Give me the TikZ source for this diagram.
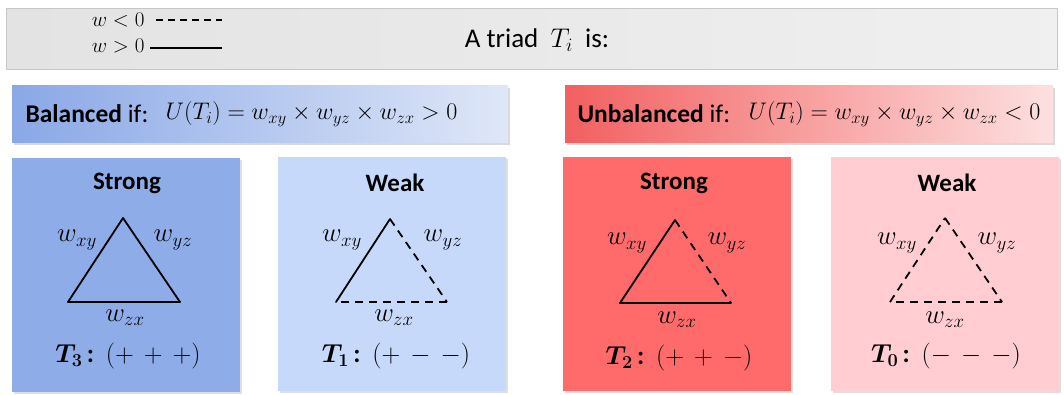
\RequirePackage{fix-cm}
\documentclass[tikz,border=0pt]{standalone}
\usepackage{amsmath}
\usepackage{bm}
\usepackage{fontspec}
\setmainfont{Carlito}
\usetikzlibrary{shadows}
\definecolor{pA}{HTML}{8EADE8}
\definecolor{pB}{HTML}{C7D9FA}
\definecolor{pC}{HTML}{FF6B6B}
\definecolor{pD}{HTML}{FFCDD2}
\definecolor{balL}{HTML}{8AA8E6}
\definecolor{balR}{HTML}{DFE7F8}
\definecolor{unbL}{HTML}{F26060}
\definecolor{unbR}{HTML}{FDE0E0}
\tikzset{
  panel/.style={minimum width=228, minimum height=234, inner sep=0pt,
    drop shadow={opacity=0.25, shadow xshift=2pt, shadow yshift=-2pt}},
  banner/.style={minimum height=57, inner sep=0pt,
    drop shadow={opacity=0.3, shadow xshift=2pt, shadow yshift=-2pt}},
  ttl/.style={font=\fontsize{25}{29}\selectfont\bfseries},
  lbl/.style={font=\fontsize{25.5}{29}\selectfont},
  eqn/.style={font=\fontsize{24}{29}\selectfont},
  tlab/.style={font=\fontsize{26}{30}\selectfont},
  wl/.style={font=\fontsize{27}{31}\selectfont},
  posedge/.style={line width=1.8pt, line cap=round},
  negedge/.style={line width=1.8pt, dash pattern=on 8pt off 6pt},
}
\newcommand\sg[3]{(#1\mskip7mu#2\mskip7mu#3)}
\begin{document}
\begin{tikzpicture}[x=1pt,y=-1pt]
\useasboundingbox (0,0) rectangle (1064,395);
% top bar
\node[draw=black!22, line width=1pt, left color=black!11, right color=black!6,
      minimum width=1051, minimum height=61, inner sep=0pt] (top) at (531.5,39.5) {};
\node[font=\fontsize{27}{31}\selectfont] (title) at (537,40) {A triad \ $T_i$ \ is:};
\node[font=\fontsize{21}{24}\selectfont, anchor=east] (lneg) at (148,20) {$w<0$};
\node[font=\fontsize{21}{24}\selectfont, anchor=east] (lpos) at (148,46) {$w>0$};
\coordinate (ln1) at (156,20); \coordinate (ln2) at (222,20);
\coordinate (lp1) at (150,48); \coordinate (lp2) at (222,48);
\draw[line width=1.6pt, dash pattern=on 7pt off 5pt] (ln1) -- (ln2);
\draw[line width=1.6pt] (lp1) -- (lp2);
% banners
\node[banner, minimum width=496, left color=balL, right color=balR] (bal) at (260,114.5) {};
\node[lbl, anchor=west] (balt) at (22,114) {\textbf{Balanced} if:};
\node[eqn, anchor=west] (bale) at (162,114) {$U(T_i)=w_{xy}\times w_{yz}\times w_{zx}>0$};
\node[banner, minimum width=488, left color=unbL, right color=unbR] (unb) at (809,114.5) {};
\node[lbl, anchor=west] (unbt) at (574,114) {\textbf{Unbalanced} if:};
\node[eqn, anchor=west] (unbe) at (745,114) {$U(T_i)=w_{xy}\times w_{yz}\times w_{zx}<0$};
% panel 1
\node[panel, fill=pA] (P1) at (126,275) {};
\node[ttl] (P1t) at (127,183) {Strong};
\coordinate (P1a) at (123,218); \coordinate (P1l) at (68,302); \coordinate (P1r) at (180,302);
\draw[posedge] (P1l) -- (P1a);
\draw[posedge] (P1a) -- (P1r);
\draw[posedge] (P1r) -- (P1l);
\node[wl] (P1xy) at (77,240) {$w_{xy}$};
\node[wl] (P1yz) at (173,240) {$w_{yz}$};
\node[wl] (P1zx) at (125,318) {$w_{zx}$};
\node[tlab] (P1s) at (128,356) {$\bm{T_3}$\,\textbf{:}\ \ $\sg{{+}}{{+}}{{+}}$};
% panel 2
\node[panel, fill=pB] (P2) at (392,274) {};
\node[ttl] (P2t) at (395,183) {Weak};
\coordinate (P2a) at (390,219); \coordinate (P2l) at (336,302); \coordinate (P2r) at (447,302);
\draw[posedge] (P2l) -- (P2a);
\draw[negedge] (P2a) -- (P2r);
\draw[negedge] (P2r) -- (P2l);
\node[wl] (P2xy) at (342,240) {$w_{xy}$};
\node[wl] (P2yz) at (443,240) {$w_{yz}$};
\node[wl] (P2zx) at (394,318) {$w_{zx}$};
\node[tlab] (P2s) at (396,356) {$\bm{T_1}$\,\textbf{:}\ \ $\sg{{+}}{{-}}{{-}}$};
% panel 3
\node[panel, fill=pC] (P3) at (677,274) {};
\node[ttl] (P3t) at (674,183) {Strong};
\coordinate (P3a) at (675,220); \coordinate (P3l) at (620,303); \coordinate (P3r) at (731,303);
\draw[posedge] (P3l) -- (P3a);
\draw[negedge] (P3a) -- (P3r);
\draw[posedge] (P3r) -- (P3l);
\node[wl] (P3xy) at (627,243) {$w_{xy}$};
\node[wl] (P3yz) at (727,243) {$w_{yz}$};
\node[wl] (P3zx) at (677,320) {$w_{zx}$};
\node[tlab] (P3s) at (679,358) {$\bm{T_2}$\,\textbf{:}\ \ $\sg{{+}}{{+}}{{-}}$};
% panel 4
\node[panel, fill=pD] (P4) at (945,274) {};
\node[ttl] (P4t) at (947,183) {Weak};
\coordinate (P4a) at (945,218); \coordinate (P4l) at (890,302); \coordinate (P4r) at (1002,302);
\draw[negedge] (P4l) -- (P4a);
\draw[negedge] (P4a) -- (P4r);
\draw[negedge] (P4r) -- (P4l);
\node[wl] (P4xy) at (897,243) {$w_{xy}$};
\node[wl] (P4yz) at (997,243) {$w_{yz}$};
\node[wl] (P4zx) at (945,320) {$w_{zx}$};
\node[tlab] (P4s) at (946,356) {$\bm{T_0}$\,\textbf{:}\ \ $\sg{{-}}{{-}}{{-}}$};
\end{tikzpicture}
\end{document}
